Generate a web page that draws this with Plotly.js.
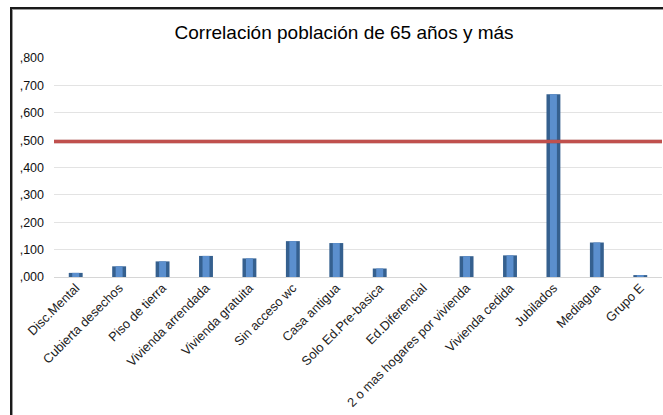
<!DOCTYPE html>
<html>
<head>
<meta charset="utf-8">
<script src="https://cdn.plot.ly/plotly-3.0.1.min.js"></script>
<style>
  html, body { margin: 0; padding: 0; background: #fff; }
  #wrap { position: relative; width: 663px; height: 415px; overflow: hidden; }
  #chart { position: absolute; left: 0; top: 0; width: 663px; height: 415px; }
  #frame {
    position: absolute; left: 10px; top: 7px; width: 720px; height: 480px;
    border-left: 2px solid #1a1a1a; border-top: 2px solid #1a1a1a;
    box-shadow: inset 1px 1px 0 #9a9a9a; pointer-events: none;
  }
</style>
</head>
<body>
<div id="wrap">
  <div id="chart"></div>
  <div id="frame"></div>
</div>
<script>
// Variables evaluated against the 65+ population
const categorias = [
  'Disc.Mental', 'Cubierta desechos', 'Piso de tierra', 'Vivienda arrendada',
  'Vivienda gratuita', 'Sin acceso wc', 'Casa antigua', 'Solo Ed.Pre-basica',
  'Ed.Diferencial', '2 o mas hogares por vivienda', 'Vivienda cedida',
  'Jubilados', 'Mediagua', 'Grupo E'
];

// Correlation coefficient for each variable
const correlacion = [
  0.015, 0.039, 0.057, 0.077,
  0.068, 0.131, 0.124, 0.031,
  0.000, 0.076, 0.079,
  0.668, 0.126, 0.007
];

// Reference threshold line
const umbral = 0.495;

// Y axis ticks (decimal comma, no leading zero)
const yTicks = [0, 0.1, 0.2, 0.3, 0.4, 0.5, 0.6, 0.7, 0.8];
const yTickText = [',000', ',100', ',200', ',300', ',400', ',500', ',600', ',700', ',800'];

const fuente = 'Arial, "Liberation Sans", sans-serif';

// Outer bar body (darker edge) and a narrower lighter core for a bevelled look
const barEdge = {
  type: 'bar', x: categorias, y: correlacion, width: 0.32,
  marker: { color: '#35608f', line: { width: 0 } },
  hoverinfo: 'x+y', showlegend: false
};
const barCore = {
  type: 'bar', x: categorias, y: correlacion, width: 0.16,
  marker: { color: '#5b8fce', line: { width: 0 } },
  hoverinfo: 'skip', showlegend: false
};

const layout = {
  width: 663, height: 415,
  margin: { l: 54, r: 1, t: 58, b: 138, pad: 0 },
  paper_bgcolor: '#ffffff', plot_bgcolor: '#ffffff',
  barmode: 'overlay',
  font: { family: fuente, color: '#000' },
  title: {
    text: 'Correlación población de 65 años y más',
    font: { family: fuente, size: 19, color: '#000' },
    xref: 'container', x: 0.519, xanchor: 'center',
    yref: 'container', y: 0.923, yanchor: 'middle'
  },
  xaxis: {
    type: 'category', tickangle: -45,
    tickfont: { family: fuente, size: 12.8, color: '#222' },
    showgrid: false, zeroline: false,
    showline: false, ticks: '', fixedrange: true
  },
  yaxis: {
    range: [0, 0.8], tickvals: yTicks, ticktext: yTickText,
    tickfont: { family: fuente, size: 12.5, color: '#111' },
    showgrid: true, gridcolor: '#e3e3e3', gridwidth: 1,
    zeroline: true, zerolinecolor: '#d6d6d6', zerolinewidth: 1,
    showline: false, ticks: '', ticklabelstandoff: 9, fixedrange: true
  },
  shapes: [
    { type: 'line', xref: 'paper', yref: 'y', x0: 0, x1: 1, y0: umbral, y1: umbral,
      line: { color: 'rgba(0,0,0,0.13)', width: 4 }, yshift: -2, layer: 'above' },
    { type: 'line', xref: 'paper', yref: 'y', x0: 0, x1: 1, y0: umbral, y1: umbral,
      line: { color: '#c0504d', width: 3.5 }, layer: 'above' }
  ]
};

Plotly.newPlot('chart', [barEdge, barCore], layout, { displayModeBar: false, staticPlot: true });
</script>
</body>
</html>
